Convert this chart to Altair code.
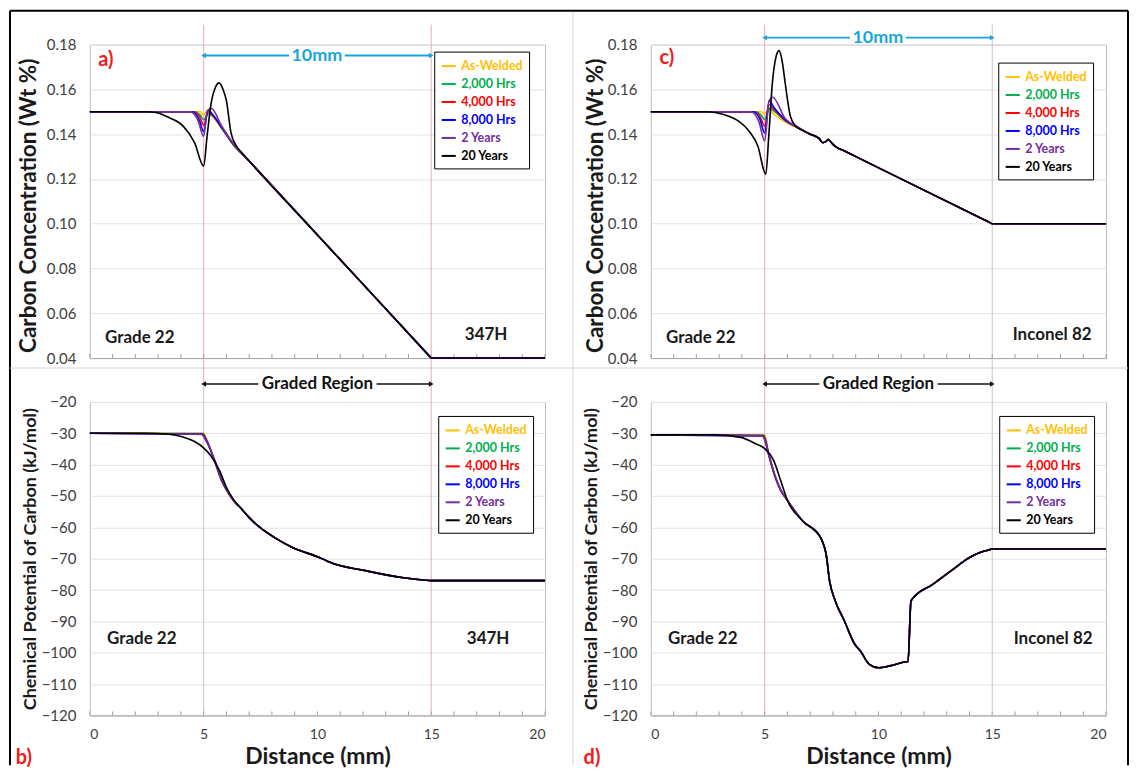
import altair as alt
import pandas as pd

SERIES = ["As-Welded", "2,000 Hrs", "4,000 Hrs", "8,000 Hrs", "2 Years", "20 Years"]
COLORS = ["#FFC000", "#00B050", "#FF0000", "#0000FF", "#7030A0", "#000000"]

X_TICKS = [0, 5, 10, 15, 20]
X_MINOR = list(range(0, 21))
REGION = [5, 15]
C_TICKS = [0.04, 0.06, 0.08, 0.10, 0.12, 0.14, 0.16, 0.18]
MU_TICKS = [-120, -110, -100, -90, -80, -70, -60, -50, -40, -30, -20]

# a) carbon concentration, Grade 22 / 347H
A_HEAD_X = [
    [0, 4.85, 5.0, 5.15, 5.4, 5.8, 6.3],
    [0, 4.6, 4.85, 5.0, 5.2, 5.45, 5.8, 6.3],
    [0, 4.55, 4.82, 5.0, 5.2, 5.42, 5.8, 6.3],
    [0, 4.5, 4.8, 5.0, 5.2, 5.4, 5.8, 6.3],
    [0, 4.4, 4.75, 5.0, 5.15, 5.33, 5.8, 6.3],
    [0, 2.5, 2.9, 3.5, 4.1, 4.6, 5.0, 5.15, 5.33, 5.5, 5.68, 5.85, 6.0, 6.2, 6.45, 6.7],
]
A_HEAD_Y = [
    [0.150, 0.150, 0.1485, 0.1505, 0.1480, 0.1425, 0.1352],
    [0.150, 0.150, 0.1485, 0.1465, 0.1490, 0.1475, 0.1425, 0.1354],
    [0.150, 0.150, 0.1478, 0.1440, 0.1500, 0.1480, 0.1428, 0.1355],
    [0.150, 0.150, 0.1465, 0.1412, 0.1508, 0.1488, 0.1430, 0.1356],
    [0.150, 0.150, 0.1462, 0.1390, 0.1500, 0.1515, 0.1435, 0.1358],
    [0.150, 0.150, 0.1497, 0.1473, 0.1436, 0.1362, 0.1258, 0.1390, 0.1540, 0.1605,
     0.1629, 0.1600, 0.1550, 0.1407, 0.1345, 0.1315],
]
A_TAIL_X = [7.0, 10.0, 14.9, 15.0, 20.0]
A_TAIL_Y = [0.1280, 0.0950, 0.0411, 0.0400, 0.0400]

# c) carbon concentration, Grade 22 / Inconel 82
C_HEAD_X = [
    [0, 4.85, 5.0, 5.15, 5.4, 5.9, 6.5],
    [0, 4.6, 4.85, 5.0, 5.2, 5.45, 5.9, 6.5],
    [0, 4.55, 4.82, 5.0, 5.2, 5.42, 5.9, 6.5],
    [0, 4.5, 4.8, 5.0, 5.2, 5.4, 5.9, 6.5],
    [0, 4.4, 4.75, 5.0, 5.2, 5.35, 5.9, 6.5],
    [0, 2.5, 3.2, 3.84, 4.31, 4.7, 5.05, 5.18, 5.34, 5.5, 5.63, 5.78, 5.9, 6.13, 6.37, 6.7],
]
C_HEAD_Y = [
    [0.150, 0.150, 0.1490, 0.1510, 0.1490, 0.1455, 0.1425],
    [0.150, 0.150, 0.1485, 0.1465, 0.1515, 0.1500, 0.1460, 0.1426],
    [0.150, 0.150, 0.1475, 0.1435, 0.1530, 0.1510, 0.1462, 0.1427],
    [0.150, 0.150, 0.1465, 0.1405, 0.1550, 0.1520, 0.1465, 0.1428],
    [0.150, 0.150, 0.1455, 0.1370, 0.1550, 0.1565, 0.1470, 0.1429],
    [0.150, 0.150, 0.1488, 0.1459, 0.1414, 0.1347, 0.1221, 0.1390, 0.1630, 0.1745,
     0.1773, 0.1720, 0.1630, 0.1480, 0.1436, 0.1415],
]
C_TAIL_X = [7.0, 7.4, 7.55, 7.7, 7.8, 7.9, 8.1, 8.4, 14.8, 14.9, 15.0, 20.0]
C_TAIL_Y = [0.1400, 0.1380, 0.1362, 0.1368, 0.1376, 0.1366, 0.1345, 0.1330, 0.1010, 0.1005,
            0.1000, 0.1000]

# b) chemical potential, Grade 22 / 347H
B_HEAD_X = [
    [0, 5.0, 5.15, 5.47, 5.78, 6.1, 6.4],
    [0, 4.97, 5.15, 5.47, 5.78, 6.1, 6.4],
    [0, 4.95, 5.15, 5.47, 5.78, 6.1, 6.4],
    [0, 4.92, 5.15, 5.47, 5.78, 6.1, 6.4],
    [0, 4.9, 5.15, 5.47, 5.78, 6.1, 6.4],
    [0, 2.5, 3.47, 4.1, 4.6, 4.96, 5.3, 5.7, 6.0, 6.34],
]
B_HEAD_Y = [
    [-30.0, -30.0, -32.3, -38.7, -45.1, -49.3, -52.2],
    [-30.0, -30.1, -32.4, -38.6, -45.0, -49.3, -52.2],
    [-30.0, -30.2, -32.6, -38.5, -44.8, -49.2, -52.2],
    [-30.0, -30.3, -32.8, -38.4, -44.6, -49.1, -52.2],
    [-30.0, -30.4, -33.0, -38.3, -44.4, -49.0, -52.2],
    [-30.0, -30.0, -30.3, -31.2, -32.6, -34.4, -37.0, -41.9, -47.2, -51.4],
]
B_TAIL_X = [6.6, 7.0, 7.5, 8.1, 8.9, 10.0, 10.3, 10.5, 12.1, 13.7, 14.9, 15.0, 20.0]
B_TAIL_Y = [-53.6, -56.9, -60.2, -63.2, -66.4, -69.4, -70.3, -71.0, -73.8, -76.0, -76.95, -77.0, -77.0]

# d) chemical potential, Grade 22 / Inconel 82
D_HEAD_X = [
    [0, 5.0, 5.2, 5.46, 5.7],
    [0, 4.97, 5.2, 5.46, 5.7],
    [0, 4.95, 5.2, 5.46, 5.7],
    [0, 4.92, 5.2, 5.46, 5.7],
    [0, 4.9, 5.2, 5.46, 5.7],
    [0, 2.8, 3.95, 4.6, 5.0, 5.4, 5.7],
]
D_HEAD_Y = [
    [-30.5, -30.5, -37.6, -44.0, -48.3],
    [-30.5, -30.6, -37.5, -43.9, -48.2],
    [-30.5, -30.7, -37.4, -43.8, -48.1],
    [-30.5, -30.8, -37.3, -43.7, -48.0],
    [-30.5, -30.9, -37.2, -43.6, -47.9],
    [-30.5, -30.5, -31.3, -33.3, -34.9, -38.7, -45.0],
]
D_TAIL_X = [6.0, 6.65, 7.45, 7.58, 7.7, 7.85, 8.1, 8.5, 8.96, 9.2, 9.6, 10.0, 10.5, 11.2,
            11.3, 11.43, 12.4, 13.2, 14.0, 14.46, 14.9, 15.0, 20.0]
D_TAIL_Y = [-51.4, -57.8, -63.2, -65.3, -68.5, -77.0, -83.4, -89.8, -97.3, -99.4, -103.7,
            -104.8, -104.2, -102.9, -102.8, -83.4, -78.1, -73.8, -69.6, -68.0, -67.1, -66.9, -66.9]

W, H = 456, 314
FONT = "Lato"
PINK = "#f2a9b3"
GREY = "#c8c8c8"
CYAN = "#17a6d9"
RED = "#ee1c1c"
XS = alt.Scale(domain=[0, 20], nice=False, zero=False)

LABEL_EXPR = ""
for s, c in zip(SERIES[:-1], COLORS[:-1]):
    LABEL_EXPR += f"datum.label === '{s}' ? '{c}' : "
LABEL_EXPR += "'#000000'"

X_AXIS_TOP = alt.Axis(values=X_TICKS, labels=False, ticks=False, title=None, grid=False,
                      domainColor="#a6a6a6")
X_AXIS_BOTTOM = alt.Axis(values=X_TICKS, labelFontSize=14, labelColor="#404040", labelFont=FONT,
                         labelPadding=12, ticks=False, grid=False, domainColor="#a6a6a6",
                         title="Distance (mm)", titleFont=FONT, titleFontSize=23,
                         titleFontWeight="bold", titleColor="#1a1a1a", titleY=30)


def build_df(hx, hy, tx, ty):
    rows = []
    for s, xs, ys in zip(SERIES, hx, hy):
        for x, y in zip(list(xs) + tx, list(ys) + ty):
            rows.append({"series": s, "x": x, "y": y})
    return pd.DataFrame(rows)


def one():
    return alt.Chart(pd.DataFrame({"k": [0]}))


def text_at(t, px, py, size, color, weight="bold"):
    return alt.Chart(pd.DataFrame({"t": [t]})).mark_text(
        align="center", baseline="middle", fontSize=size, fontWeight=weight,
        font=FONT, color=color
    ).encode(text="t:N", x=alt.value(px), y=alt.value(py))


def vline(xv, color, y0, y1, xax):
    return alt.Chart(pd.DataFrame({"x": [xv]})).mark_rule(color=color, strokeWidth=1).encode(
        x=alt.X("x:Q", scale=XS, axis=xax), y=alt.value(y0), y2=alt.value(y1))


def arrow(py, color, gap0, gap1, label, size, width, xax):
    seg = alt.Chart(pd.DataFrame({"x": [REGION[0], gap1], "x2": [gap0, REGION[1]]})).mark_rule(
        color=color, strokeWidth=width).encode(
        x=alt.X("x:Q", scale=XS, axis=xax), x2="x2:Q", y=alt.value(py))
    left = alt.Chart(pd.DataFrame({"x": [REGION[0]]})).mark_point(
        shape="triangle-left", filled=True, size=30, opacity=1, color=color).encode(
        x=alt.X("x:Q", scale=XS, axis=xax), y=alt.value(py))
    right = alt.Chart(pd.DataFrame({"x": [REGION[1]]})).mark_point(
        shape="triangle-right", filled=True, size=30, opacity=1, color=color).encode(
        x=alt.X("x:Q", scale=XS, axis=xax), y=alt.value(py))
    txt = alt.Chart(pd.DataFrame({"x": [(gap0 + gap1) / 2], "t": [label]})).mark_text(
        align="center", baseline="middle", fontSize=size, fontWeight="bold", font=FONT,
        color=color).encode(x=alt.X("x:Q", scale=XS, axis=xax), y=alt.value(py), text="t:N")
    return [seg, left, right, txt]


def panel(df, top, c5, c15, legend_xy, tag, tag_xy, right_label, annot_y, ytitle_x):
    if top:
        ydom = [0.04, 0.18]
        yaxis = alt.Axis(values=C_TICKS, format=".2f", labelFontSize=15, labelColor="#404040",
                         labelFont=FONT, labelPadding=14, ticks=False, domain=False,
                         grid=True, gridColor="#e3e3e3",
                         title="Carbon Concentration (Wt %)", titleFont=FONT, titleFontSize=22.5,
                         titleFontWeight="bold", titleColor="#1a1a1a", titleX=ytitle_x,
                         titleY=H / 2 + 4, titleAngle=270, titleAlign="center",
                         titleBaseline="middle")
        xax = X_AXIS_TOP
    else:
        ydom = [-120, -20]
        yaxis = alt.Axis(values=MU_TICKS, format="d", labelFontSize=15, labelColor="#404040",
                         labelFont=FONT, labelPadding=14, ticks=False, domain=False,
                         grid=True, gridColor="#e3e3e3",
                         title="Chemical Potential of Carbon (kJ/mol)", titleFont=FONT,
                         titleFontSize=18, titleFontWeight="bold", titleColor="#1a1a1a",
                         titleX=ytitle_x, titleY=H / 2, titleAngle=270, titleAlign="center",
                         titleBaseline="middle")
        xax = X_AXIS_BOTTOM
    ys = alt.Scale(domain=ydom, nice=False, zero=False)

    layers = []
    if top:
        layers.append(vline(REGION[0], c5, -20, H + 24, xax))
        layers.append(vline(REGION[1], c15, -20, H + 24, xax))
    else:
        layers.append(vline(REGION[0], c5, -22, H, xax))
        layers.append(vline(REGION[1], c15, -22, H, xax))
    layers.append(alt.Chart(pd.DataFrame({"x": X_MINOR})).mark_rule(color="#a0a0a0").encode(
        x=alt.X("x:Q", scale=XS, axis=xax), y=alt.value(H - 4), y2=alt.value(H)))

    lines = alt.Chart(df).mark_line(strokeWidth=1.6, interpolate="monotone").encode(
        x=alt.X("x:Q", scale=XS, axis=xax),
        y=alt.Y("y:Q", scale=ys, axis=yaxis),
        color=alt.Color("series:N", sort=SERIES, scale=alt.Scale(domain=SERIES, range=COLORS),
                        legend=alt.Legend(orient="none", legendX=legend_xy[0],
                                          legendY=legend_xy[1], title=None, labelFont=FONT,
                                          labelFontWeight="bold", labelFontSize=12.5,
                                          labelColor={"expr": LABEL_EXPR},
                                          symbolType="stroke", symbolStrokeWidth=2,
                                          symbolSize=200, rowPadding=3, padding=6,
                                          labelOffset=4, strokeColor="black",
                                          fillColor="white")),
    )
    layers.append(lines)

    if top:
        layers += arrow(annot_y, CYAN, 8.75, 11.2, "10mm", 18, 2, xax)
        layers.append(text_at("Grade 22", 50, 294, 17, "#1a1a1a"))
        layers.append(text_at(right_label, 397 if right_label == "347H" else 402, 291, 17, "#1a1a1a"))
    else:
        layers += arrow(-18, "#111111", 7.4, 12.6, "Graded Region", 17, 1.5, xax)
        layers.append(text_at("Grade 22", 52, 237, 17, "#1a1a1a"))
        layers.append(text_at(right_label, 399 if right_label == "347H" else 403, 237, 17, "#1a1a1a"))
    layers.append(text_at(tag, tag_xy[0], tag_xy[1], 20, RED))
    return layers


def frame():
    rule = dict(color="black", strokeWidth=2)
    sep = dict(color="#d4d4d4", strokeWidth=1)
    return [
        one().mark_rule(**rule).encode(x=alt.value(-80), x2=alt.value(1040), y=alt.value(-34)),
        one().mark_rule(**rule).encode(x=alt.value(-80), y=alt.value(-34), y2=alt.value(722)),
        one().mark_rule(**rule).encode(x=alt.value(1040), y=alt.value(-34), y2=alt.value(722)),
        one().mark_rule(**sep).encode(x=alt.value(-80), x2=alt.value(1040), y=alt.value(324)),
        one().mark_rule(**sep).encode(x=alt.value(484), y=alt.value(-33), y2=alt.value(722)),
    ]


df_a = build_df(A_HEAD_X, A_HEAD_Y, A_TAIL_X, A_TAIL_Y)
df_c = build_df(C_HEAD_X, C_HEAD_Y, C_TAIL_X, C_TAIL_Y)
df_b = build_df(B_HEAD_X, B_HEAD_Y, B_TAIL_X, B_TAIL_Y)
df_d = build_df(D_HEAD_X, D_HEAD_Y, D_TAIL_X, D_TAIL_Y)

pa = alt.layer(*(frame() + panel(df_a, True, PINK, PINK, (345, 7), "a)", (16, 15), "347H", 11, -61))
               ).properties(width=W, height=H)
pc = alt.layer(*panel(df_c, True, PINK, GREY, (348, 18), "c)", (16, 13), "Inconel 82", -7, -55)
               ).properties(width=W, height=H)
pb = alt.layer(*panel(df_b, False, GREY, PINK, (349, 14), "b)", (-66, 357), "347H", -18, -59)
               ).properties(width=W, height=H)
pd_ = alt.layer(*panel(df_d, False, PINK, GREY, (349, 14), "d)", (-59, 357), "Inconel 82", -18, -59)
                ).properties(width=W, height=H)

chart = alt.ConcatChart(
    concat=[pa, pc, pb, pd_], columns=2, spacing={"row": 44, "column": 106}, bounds="flush"
).resolve_scale(
    color="independent", x="independent", y="independent"
).resolve_legend(color="independent").configure_view(
    stroke="#bfbfbf", strokeWidth=1
).properties(padding=0, background="white")

chart.save("out.html", embed_options={"renderer": "svg", "actions": False})
